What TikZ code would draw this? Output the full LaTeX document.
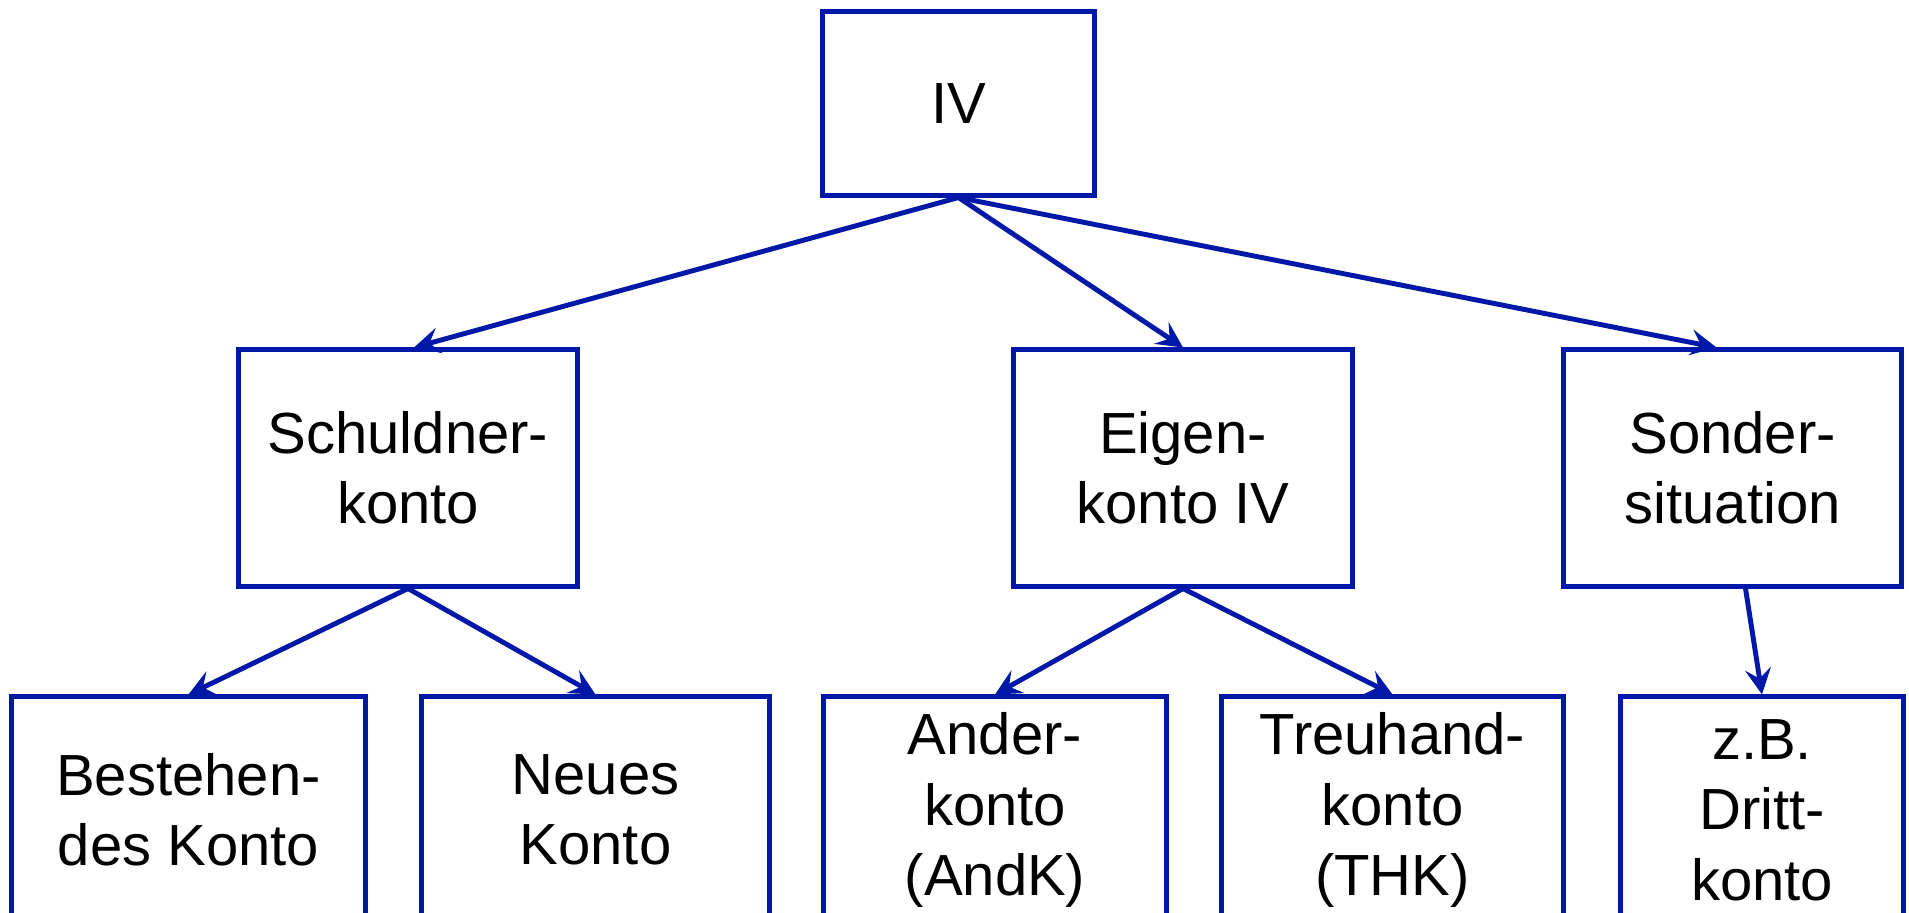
\documentclass[tikz,border=0pt]{standalone}
\usepackage{fontspec}
\setmainfont{Liberation Sans}
\usetikzlibrary{arrows.meta}
\definecolor{kontoblau}{RGB}{0,24,168}

\begin{document}
\begin{tikzpicture}[x=0.01cm, y=-0.01cm,
  box/.style={draw=kontoblau, line width=1.4pt, rectangle, align=center, inner sep=0pt,
    font=\fontsize{16.5}{20}\selectfont},
  mittel/.style={box, minimum width=3.38cm, minimum height=2.36cm},
  unten/.style={box, minimum height=2.26cm},
  pfeil/.style={draw=kontoblau, line width=1.4pt,
    -{Stealth[length=0.26cm, width=0.26cm, inset=0.1cm]}}]
\useasboundingbox (0,0) rectangle (1909,912);

% IV
\node [box, minimum width=2.71cm, minimum height=1.83cm] (iv) at (958.5,103.5) {IV};

% second row
\node [mittel] (schuldner) at (408,468) {Schuldner-\\konto};
\node [mittel] (eigen) at (1183,468) {Eigen-\\konto IV};
\node [mittel] (sonder) at (1732.5,468) {Sonder-\\situation};

% third row
\node [unten, minimum width=3.53cm] (bestehend) at (188.5,810) {Bestehen-\\des Konto};
\node [unten, minimum width=3.47cm] (neu) at (595.5,810) {Neues\\Konto};
\node [unten, minimum width=3.42cm] (ander) at (995,810) {Ander-\\konto\\(AndK)};
\node [unten, minimum width=3.41cm] (treuhand) at (1392.5,810) {Treuhand-\\konto\\(THK)};
\node [unten, minimum width=2.82cm] (dritt) at (1762,810) {z.B.\\Dritt-\\konto};

% arrows
\draw [pfeil] (iv.south) -- ([xshift=0.06cm]schuldner.north);
\draw [pfeil] (iv.south) -- (eigen.north);
\draw [pfeil] (iv.south) -- ([xshift=-0.16cm]sonder.north);
\draw [pfeil] (schuldner.south) -- (bestehend.north);
\draw [pfeil] (schuldner.south) -- (neu.north);
\draw [pfeil] (eigen.south) -- (ander.north);
\draw [pfeil] (eigen.south) -- (treuhand.north);
\draw [pfeil] ([xshift=0.13cm]sonder.south) -- (dritt.north);
\end{tikzpicture}
\end{document}
